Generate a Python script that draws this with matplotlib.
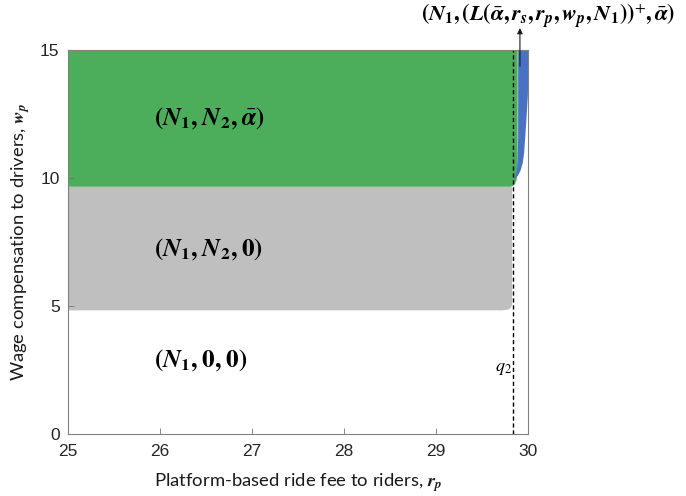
import matplotlib
matplotlib.use("Agg")
import matplotlib.pyplot as plt

plt.rcParams["mathtext.fontset"] = "stix"

# parameter range
rp_min, rp_max = 25.0, 30.0
wp_min, wp_max = 0.0, 15.0
q2 = 29.84

# (N1, N2, 0) region: lower boundary along r_p, flat top
rp_gray = [25.0, 29.70, 29.76, 29.79, 29.81, 29.82]
wp_gray_low = [4.85, 4.85, 4.87, 4.90, 4.97, 5.10]
wp_gray_high = 9.68

# (N1, N2, alpha) region: lower boundary along r_p
rp_green = [25.0, 29.80, 29.83, 29.85, 29.87, 29.88]
wp_green_low = [9.68, 9.68, 9.71, 9.78, 9.95, 10.40]

# (N1, L^+, alpha) sliver near r_p = 30
wp_blue = [10.0, 10.1, 10.3, 10.6, 11.0, 11.6, 12.3, 13.2, 14.0, 15.0]
rp_blue_left = [29.84, 29.855, 29.87, 29.878, 29.882, 29.885, 29.885, 29.885, 29.885, 29.885]
rp_blue_right = [29.85, 29.88, 29.91, 29.935, 29.95, 29.962, 29.975, 29.99, 29.997, 30.0]

x_ticks = [25, 26, 27, 28, 29, 30]
y_ticks = [0, 5, 10, 15]

fig = plt.figure(figsize=(6.86, 4.96), dpi=100)
ax = fig.add_axes([0.099, 0.125, 0.671, 0.774])

ax.fill_between(rp_gray, wp_gray_low, wp_gray_high, color="#bfbfbf", lw=0)
ax.fill_between(rp_green, wp_green_low, wp_max, color="#4cad5b", lw=0)
ax.fill_betweenx(wp_blue, rp_blue_left, rp_blue_right, color="#4a72c4", lw=0)

ax.axvline(q2, color="black", ls=(0, (3, 2)), lw=1.0)

ax.set_xlim(rp_min, rp_max)
ax.set_ylim(wp_min, wp_max)
ax.set_xticks(x_ticks)
ax.set_yticks(y_ticks)
ax.tick_params(direction="in", length=4, width=0.6, color="0.45",
               labelsize=12.5, labelcolor="0.15")
ax.tick_params(axis="x", pad=7)
ax.tick_params(axis="y", pad=6)
for lab in ax.get_xticklabels() + ax.get_yticklabels():
    lab.set_family("Liberation Sans")
for s in ax.spines.values():
    s.set_color("0.5")
    s.set_linewidth(0.8)

lbl_font = dict(family="Lato", size=13.3, color="0.1")
ax.set_xlabel(r"Platform-based ride fee to riders, $\boldsymbol{r}_{\boldsymbol{p}}$",
              labelpad=9, **lbl_font)
ax.set_ylabel(r"Wage compensation to drivers, $\boldsymbol{w}_{\boldsymbol{p}}$",
              labelpad=6, **lbl_font)

N1 = r"\boldsymbol{N}_{\mathbf{1}}"
N2 = r"\boldsymbol{N}_{\mathbf{2}}"
abar = r"\bar{\boldsymbol{\alpha}}"
sep = r"\mathbf{,}\;"
region_kw = dict(fontsize=18, ha="left", va="center", color="black")
ax.text(25.93, 12.36, rf"$\mathbf{{(}}{N1}{sep}{N2}{sep}{abar}\mathbf{{)}}$", **region_kw)
ax.text(25.93, 7.23, rf"$\mathbf{{(}}{N1}{sep}{N2}{sep}\mathbf{{0)}}$", **region_kw)
ax.text(25.93, 2.88, rf"$\mathbf{{(}}{N1}{sep}\mathbf{{0}}{sep}\mathbf{{0)}}$", **region_kw)

ax.text(29.73, 2.57, r"$q_2$", fontsize=13, ha="center", va="center")

sm = r"\mathbf{,}\,"
top_lbl = (rf"$\mathbf{{(}}{N1}{sm}\mathbf{{(}}\boldsymbol{{L}}\mathbf{{(}}{abar}{sm}"
           rf"\boldsymbol{{r}}_{{\boldsymbol{{s}}}}{sm}\boldsymbol{{r}}_{{\boldsymbol{{p}}}}{sm}"
           rf"\boldsymbol{{w}}_{{\boldsymbol{{p}}}}{sm}{N1}\mathbf{{))}}^{{+}}{sm}{abar}\mathbf{{)}}$")
ax.text(30.22, 16.33, top_lbl, fontsize=16, ha="center", va="center", clip_on=False)

ax.annotate("", xy=(29.91, 15.86), xytext=(29.91, 14.37),
            arrowprops=dict(arrowstyle="-|>", color="0.1", lw=0.8,
                            mutation_scale=8, shrinkA=0, shrinkB=0),
            annotation_clip=False)

fig.savefig("out.png", dpi=100)
